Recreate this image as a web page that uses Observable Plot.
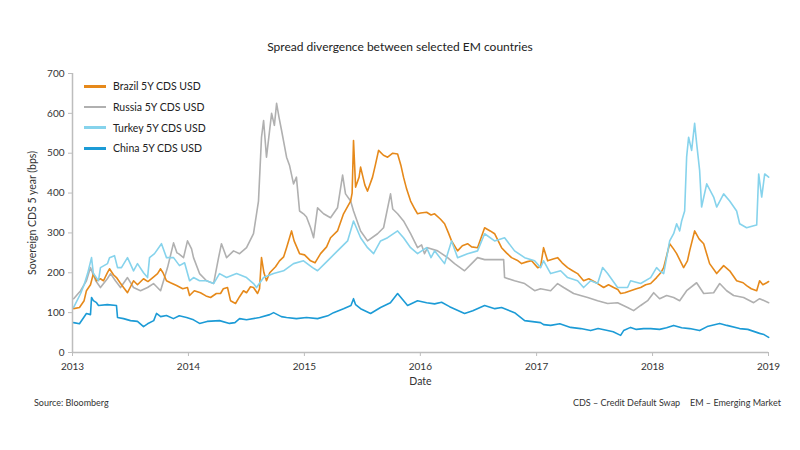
<!DOCTYPE html>
<html><head><meta charset="utf-8">
<script src="https://cdn.jsdelivr.net/npm/d3@7"></script>
<script src="https://cdn.jsdelivr.net/npm/@observablehq/plot@0.6"></script>
<style>
body{margin:0;background:#fff;font-family:Lato,"Open Sans",sans-serif;}
#wrap{position:relative;width:800px;height:450px;overflow:hidden;background:#fff}
#title{position:absolute;top:39px;left:0;width:800px;text-align:center;font-size:12px;color:#222;}
#chart{position:absolute;top:60px;left:0;}
#legend{position:absolute;left:84px;top:76px;font-size:10.5px;color:#222}
.row{display:flex;align-items:center;height:20.7px}
.sw{width:22px;height:2.5px;margin-right:7px}
.foot{position:absolute;top:397px;font-size:9px;color:#333;white-space:nowrap}
</style></head>
<body><div id="wrap">
<div id="title">Spread divergence between selected EM countries</div>
<div id="chart"></div>
<div id="legend"></div>
<div class="foot" style="left:34px">Source: Bloomberg</div>
<div class="foot" style="left:573px">CDS – Credit Default Swap</div>
<div class="foot" style="left:690px">EM – Emerging Market</div>
</div>
<script>
// Series: [decimal year, spread in bps]
const brazil = [[2013.01,110],[2013.06,113],[2013.10,130],[2013.12,155],[2013.155,170],[2013.18,198],[2013.207,180],[2013.24,185],[2013.267,180],[2013.30,200],[2013.319,210],[2013.353,195],[2013.379,188],[2013.41,175],[2013.44,163],[2013.474,150],[2013.50,165],[2013.526,180],[2013.56,170],[2013.612,185],[2013.65,178],[2013.70,190],[2013.733,198],[2013.759,210],[2013.78,200],[2013.81,180],[2013.845,175],[2013.897,168],[2013.95,160],[2013.991,163],[2014.009,143],[2014.05,155],[2014.103,150],[2014.15,142],[2014.19,138],[2014.24,148],[2014.276,148],[2014.30,160],[2014.336,163],[2014.362,130],[2014.405,123],[2014.44,140],[2014.474,155],[2014.50,150],[2014.534,165],[2014.56,163],[2014.595,148],[2014.612,160],[2014.629,238],[2014.65,200],[2014.672,180],[2014.70,200],[2014.75,215],[2014.784,230],[2014.82,240],[2014.845,263],[2014.888,305],[2014.91,280],[2014.957,248],[2015.0,245],[2015.052,230],[2015.09,225],[2015.138,248],[2015.19,265],[2015.224,288],[2015.284,305],[2015.336,348],[2015.397,380],[2015.41,400],[2015.422,532],[2015.44,415],[2015.47,440],[2015.483,465],[2015.52,420],[2015.543,405],[2015.586,440],[2015.61,470],[2015.638,507],[2015.68,495],[2015.716,490],[2015.76,500],[2015.802,498],[2015.83,470],[2015.853,440],[2015.88,410],[2015.914,380],[2015.95,360],[2015.974,348],[2016.0,350],[2016.052,352],[2016.09,345],[2016.121,348],[2016.17,335],[2016.207,323],[2016.24,300],[2016.267,280],[2016.319,255],[2016.36,268],[2016.405,273],[2016.44,265],[2016.491,263],[2016.552,313],[2016.60,305],[2016.638,298],[2016.698,263],[2016.74,250],[2016.784,238],[2016.84,230],[2016.871,223],[2016.92,228],[2016.957,230],[2017.009,213],[2017.034,215],[2017.06,263],[2017.095,230],[2017.15,235],[2017.181,238],[2017.22,225],[2017.267,213],[2017.31,205],[2017.353,198],[2017.405,180],[2017.45,185],[2017.526,173],[2017.578,163],[2017.62,170],[2017.664,163],[2017.70,158],[2017.724,148],[2017.76,150],[2017.81,155],[2017.86,160],[2017.897,163],[2017.94,170],[2017.983,173],[2018.034,188],[2018.07,200],[2018.095,213],[2018.147,273],[2018.18,260],[2018.207,248],[2018.267,213],[2018.30,230],[2018.319,255],[2018.362,305],[2018.40,285],[2018.44,273],[2018.491,223],[2018.552,198],[2018.612,218],[2018.664,205],[2018.724,180],[2018.78,175],[2018.81,168],[2018.85,160],[2018.897,155],[2018.922,180],[2018.95,170],[2018.983,175],[2019.0,178]];
const russia = [[2013.01,135],[2013.07,155],[2013.12,180],[2013.155,213],[2013.20,180],[2013.241,163],[2013.30,185],[2013.328,198],[2013.37,180],[2013.414,163],[2013.474,188],[2013.526,163],[2013.586,155],[2013.647,163],[2013.698,173],[2013.759,155],[2013.819,213],[2013.871,275],[2013.90,250],[2013.914,248],[2013.957,238],[2013.991,280],[2014.026,260],[2014.043,238],[2014.095,198],[2014.155,180],[2014.216,173],[2014.259,238],[2014.284,273],[2014.328,238],[2014.388,255],[2014.44,248],[2014.50,263],[2014.56,298],[2014.603,380],[2014.629,540],[2014.647,582],[2014.672,490],[2014.716,600],[2014.74,570],[2014.759,625],[2014.78,590],[2014.802,557],[2014.845,490],[2014.87,470],[2014.905,423],[2014.93,440],[2014.957,355],[2014.991,348],[2015.017,340],[2015.052,313],[2015.078,288],[2015.112,363],[2015.164,348],[2015.224,338],[2015.284,363],[2015.328,445],[2015.353,398],[2015.397,380],[2015.422,355],[2015.483,305],[2015.543,280],[2015.629,298],[2015.681,313],[2015.741,398],[2015.76,360],[2015.802,348],[2015.853,330],[2015.914,298],[2015.974,263],[2016.009,270],[2016.034,248],[2016.06,263],[2016.147,255],[2016.233,238],[2016.293,223],[2016.379,205],[2016.44,223],[2016.491,238],[2016.552,233],[2016.716,233],[2016.724,188],[2016.81,180],[2016.897,173],[2016.983,155],[2017.034,160],[2017.121,155],[2017.181,173],[2017.233,163],[2017.319,148],[2017.379,143],[2017.44,138],[2017.526,130],[2017.612,123],[2017.698,125],[2017.784,113],[2017.836,105],[2017.897,118],[2017.957,130],[2017.983,140],[2018.009,150],[2018.06,135],[2018.121,143],[2018.181,138],[2018.233,130],[2018.293,155],[2018.379,175],[2018.44,148],[2018.526,150],[2018.578,173],[2018.638,155],[2018.698,143],[2018.784,138],[2018.871,125],[2018.922,135],[2019.0,125]];
const turkey = [[2013.01,113],[2013.07,148],[2013.10,170],[2013.13,198],[2013.164,238],[2013.18,198],[2013.224,180],[2013.241,213],[2013.302,223],[2013.319,238],[2013.362,243],[2013.388,213],[2013.422,213],[2013.474,238],[2013.526,205],[2013.56,223],[2013.612,200],[2013.647,188],[2013.664,238],[2013.707,248],[2013.767,273],[2013.81,238],[2013.871,238],[2013.922,218],[2013.966,225],[2014.009,180],[2014.043,188],[2014.095,180],[2014.155,180],[2014.216,173],[2014.267,198],[2014.328,188],[2014.414,198],[2014.5,188],[2014.56,173],[2014.586,163],[2014.647,188],[2014.733,198],[2014.819,205],[2014.905,223],[2014.991,230],[2015.069,213],[2015.112,205],[2015.198,230],[2015.284,255],[2015.371,280],[2015.422,330],[2015.483,288],[2015.543,263],[2015.595,248],[2015.655,280],[2015.716,288],[2015.802,305],[2015.853,288],[2015.914,263],[2015.974,248],[2016.052,263],[2016.09,238],[2016.121,255],[2016.207,223],[2016.267,280],[2016.319,238],[2016.405,248],[2016.491,255],[2016.552,298],[2016.638,280],[2016.724,288],[2016.81,255],[2016.897,238],[2016.983,230],[2017.034,213],[2017.06,230],[2017.121,198],[2017.207,205],[2017.267,188],[2017.353,180],[2017.405,163],[2017.466,180],[2017.526,173],[2017.569,213],[2017.612,198],[2017.698,163],[2017.784,163],[2017.81,180],[2017.897,173],[2017.983,188],[2018.034,213],[2018.06,205],[2018.095,198],[2018.147,280],[2018.181,298],[2018.207,323],[2018.233,305],[2018.25,330],[2018.276,355],[2018.293,490],[2018.31,540],[2018.336,507],[2018.362,575],[2018.38,523],[2018.405,457],[2018.422,365],[2018.466,423],[2018.526,390],[2018.552,365],[2018.612,398],[2018.664,380],[2018.724,355],[2018.75,323],[2018.81,313],[2018.871,318],[2018.897,320],[2018.914,448],[2018.94,390],[2018.966,448],[2019.0,440]];
const china = [[2013.01,75],[2013.06,72],[2013.12,98],[2013.155,95],[2013.164,138],[2013.18,130],[2013.207,125],[2013.224,118],[2013.30,120],[2013.379,118],[2013.388,88],[2013.44,85],[2013.50,80],[2013.56,78],[2013.612,65],[2013.647,72],[2013.70,80],[2013.724,98],[2013.76,90],[2013.81,93],[2013.87,85],[2013.92,92],[2013.983,88],[2014.043,82],[2014.095,73],[2014.16,78],[2014.267,80],[2014.353,73],[2014.40,75],[2014.44,85],[2014.5,82],[2014.612,88],[2014.70,95],[2014.733,100],[2014.80,90],[2014.845,88],[2014.93,85],[2015.017,88],[2015.112,85],[2015.20,92],[2015.25,100],[2015.336,110],[2015.40,118],[2015.422,135],[2015.44,120],[2015.483,110],[2015.569,98],[2015.655,113],[2015.74,125],[2015.802,148],[2015.888,118],[2015.974,130],[2016.052,125],[2016.121,122],[2016.181,126],[2016.25,115],[2016.379,98],[2016.45,105],[2016.552,118],[2016.64,110],[2016.698,113],[2016.81,100],[2016.897,80],[2017.034,75],[2017.06,70],[2017.121,68],[2017.20,72],[2017.293,63],[2017.38,60],[2017.466,55],[2017.53,60],[2017.612,55],[2017.66,52],[2017.724,43],[2017.75,55],[2017.81,63],[2017.86,58],[2017.922,60],[2017.983,60],[2018.06,58],[2018.12,62],[2018.181,68],[2018.25,62],[2018.319,60],[2018.405,55],[2018.47,65],[2018.578,73],[2018.64,68],[2018.75,60],[2018.82,58],[2018.922,48],[2018.96,45],[2019.0,38]];

const seriesNames = ["Brazil 5Y CDS USD","Russia 5Y CDS USD","Turkey 5Y CDS USD","China 5Y CDS USD"];
const seriesColors = ["#e6891a","#b0b0b0","#86d3ec","#1c9bd6"];
const yTicks = [0,100,200,300,400,500,600,700];
const xYears = [2013,2014,2015,2016,2017,2018,2019];

const toDate = t => new Date(Date.UTC(2013,0,1) + (t - 2013) * 365.25 * 864e5);
const rows = (arr) => arr.map(([t, v]) => ({date: toDate(t), value: v}));
const yearDates = xYears.map(y => new Date(Date.UTC(y,0,1)));

const lineOpts = (c) => ({x: "date", y: "value", stroke: c, strokeWidth: 1.6, curve: "linear"});

const chart = Plot.plot({
  width: 800, height: 330,
  marginTop: 13, marginLeft: 72, marginRight: 32, marginBottom: 38,
  style: {fontFamily: "Lato, 'Open Sans', sans-serif", fontSize: "10px", color: "#333", background: "#fff"},
  x: {type: "utc", domain: [yearDates[0], yearDates[yearDates.length-1]]},
  y: {domain: [0, 700]},
  marks: [
    Plot.line(rows(russia), lineOpts(seriesColors[1])),
    Plot.line(rows(brazil), lineOpts(seriesColors[0])),
    Plot.line(rows(turkey), lineOpts(seriesColors[2])),
    Plot.line(rows(china), lineOpts(seriesColors[3])),
    Plot.ruleX([yearDates[0]], {stroke: "#bdbdbd", strokeWidth: 1.5}),
    Plot.ruleY([0], {stroke: "#bdbdbd", strokeWidth: 1.5}),
    Plot.axisY({ticks: yTicks, tickSize: 4, tickPadding: 4, stroke: "#bdbdbd", fill: "#333",
      label: "Sovereign CDS 5 year (bps)", labelAnchor: "center", labelArrow: "none", labelOffset: 44}),
    Plot.axisX({ticks: yearDates, tickFormat: "%Y", tickSize: 4, tickPadding: 6, stroke: "#bdbdbd", fill: "#333",
      label: "Date", labelAnchor: "center", labelArrow: "none", labelOffset: 32})
  ]
});
chart.querySelectorAll('[aria-label="y-axis label"] text, [aria-label="x-axis label"] text').forEach(t => t.style.fontSize = "10.5px");
document.getElementById("chart").appendChild(chart);

const legend = document.getElementById("legend");
seriesNames.forEach((n, i) => {
  const r = document.createElement("div"); r.className = "row";
  const s = document.createElement("div"); s.className = "sw"; s.style.background = seriesColors[i];
  const t = document.createElement("span"); t.textContent = n;
  r.appendChild(s); r.appendChild(t); legend.appendChild(r);
});
</script>
</body></html>
